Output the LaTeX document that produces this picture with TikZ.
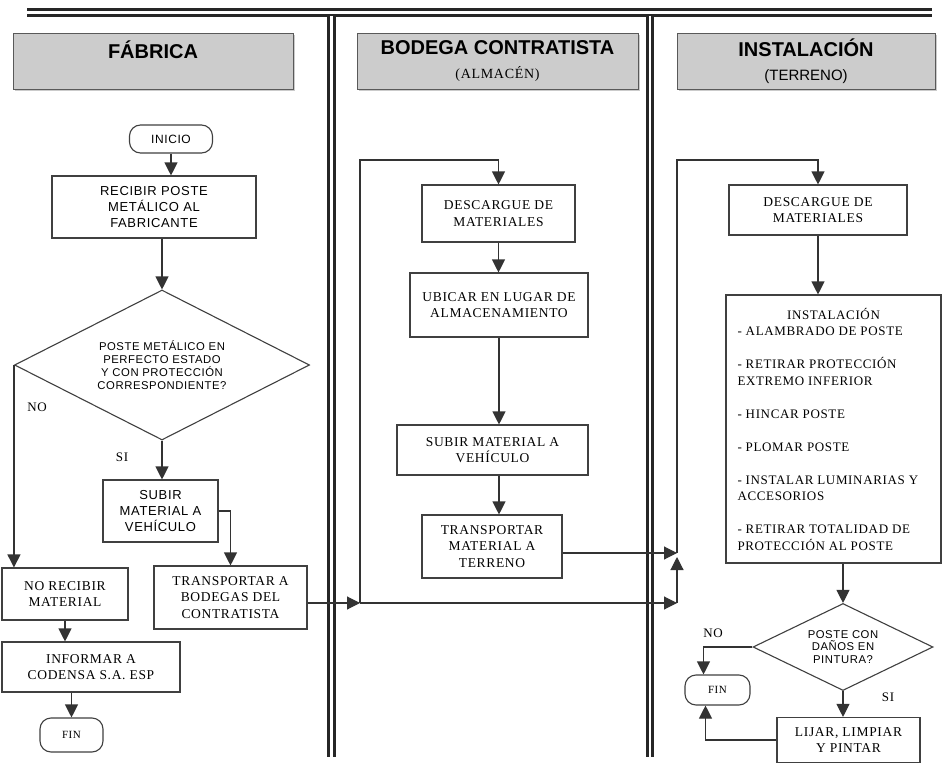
\documentclass[tikz,border=0pt]{standalone}
\usepackage{fontspec}
\setmainfont{Liberation Serif}
\setsansfont{Liberation Sans}
\newfontfamily\serifcaja[LetterSpace=5]{Liberation Serif}
\newfontfamily\sanscaja[LetterSpace=5]{Liberation Sans}
\usetikzlibrary{arrows.meta,shapes.geometric,shadows}

\begin{document}
\begin{tikzpicture}[x=1pt,y=-1pt,
    caja/.style={draw=black!75, line width=1.1pt, fill=white, align=center, inner sep=2pt,
        font=\serifcaja\fontsize{13.5}{16.5}\selectfont},
    cajasans/.style={caja, font=\sanscaja\fontsize{13}{16}\selectfont},
    encabezado/.style={draw=gray!70!black, line width=1pt, fill=gray!40, align=center,
        minimum height=56pt, font=\sffamily\bfseries\fontsize{20}{22}\selectfont,
        drop shadow={shadow xshift=1.5pt, shadow yshift=-1.5pt, fill=gray!80}},
    terminal/.style={caja, rounded corners=11pt, font=\serifcaja\fontsize{11}{12}\selectfont},
    decision/.style={draw=black!75, line width=1.1pt, fill=white, diamond, aspect=2,
        inner sep=0pt, align=center, font=\sanscaja\fontsize{11.3}{12.8}\selectfont},
    flecha/.style={draw=black!80, line width=1.1pt, -{Triangle[width=13pt,length=13pt]}},
    etiqueta/.style={font=\serifcaja\fontsize{13}{15}\selectfont},
    carril/.style={draw=black!85, line width=3pt, double=white, double distance=2.2pt}
]
\fill[white] (0,0) rectangle (946,768);
\useasboundingbox (0,0) rectangle (946,768);

\draw[carril] (27,12.5) -- (932,12.5);
\draw[carril] (331.5,16) -- (331.5,757);
\draw[carril] (650,16) -- (650,757);

\node[encabezado, minimum width=280pt] (encFabrica) at (153,61.5)
    {FÁBRICA\\[-2pt]{\mdseries\fontsize{13}{15}\selectfont\strut}};
\node[encabezado, minimum width=281pt] (encBodega) at (497.5,61.5)
    {BODEGA CONTRATISTA\\[2pt]{\mdseries\serifcaja\fontsize{14}{15}\selectfont (ALMACÉN)}};
\node[encabezado, minimum width=258pt] (encInstal) at (806,61.5)
    {INSTALACIÓN\\[2pt]{\mdseries\fontsize{15}{15}\selectfont (TERRENO)}};

% fabrica
\node[terminal, font=\sanscaja\fontsize{12}{13}\selectfont, minimum width=83pt, minimum height=28pt] (inicio) at (171,139) {INICIO};
\node[cajasans, minimum width=204pt, minimum height=62pt] (recibir) at (154,207) {RECIBIR POSTE\\METÁLICO AL\\FABRICANTE};
\node[decision, minimum width=295pt, minimum height=150pt] (pregunta) at (162,365) {POSTE METÁLICO EN\\PERFECTO ESTADO\\Y CON PROTECCIÓN\\CORRESPONDIENTE?};
\node[cajasans, minimum width=115pt, minimum height=62pt] (subirA) at (160.5,511) {SUBIR\\MATERIAL A\\VEHÍCULO};
\node[caja, minimum width=153pt, minimum height=63pt] (transpA) at (230.5,597.5) {TRANSPORTAR A\\BODEGAS DEL\\CONTRATISTA};
\node[caja, minimum width=126pt, minimum height=52pt] (noRecibir) at (65,594) {NO RECIBIR\\MATERIAL};
\node[caja, minimum width=178pt, minimum height=50pt] (informar) at (91,667) {INFORMAR A\\CODENSA S.A. ESP};
\node[terminal, minimum width=63pt, minimum height=34pt] (finA) at (71.5,735) {FIN};
\node[etiqueta] (etqNoA) at (37,407) {NO};
\node[etiqueta] (etqSiA) at (122,457) {SI};

% bodega
\node[caja, minimum width=153pt, minimum height=57pt] (descargaB) at (498.5,213.5) {DESCARGUE DE\\MATERIALES};
\node[caja, minimum width=178pt, minimum height=64pt] (ubicar) at (499,305) {UBICAR EN LUGAR DE\\ALMACENAMIENTO};
\node[caja, minimum width=191pt, minimum height=50pt] (subirB) at (492.5,450) {SUBIR MATERIAL A\\VEHÍCULO};
\node[caja, minimum width=140pt, minimum height=63pt] (transpB) at (492,546.5) {TRANSPORTAR\\MATERIAL A\\TERRENO};

% instalacion
\node[caja, minimum width=178pt, minimum height=50pt] (descargaC) at (818,210) {DESCARGUE DE\\MATERIALES};
\node[caja, minimum width=215pt, minimum height=268pt, text width=192pt, align=flush left,
    font=\serifcaja\fontsize{13}{16.5}\selectfont] (instalar) at (833.5,429)
    {\makebox[192pt][c]{INSTALACIÓN}\\
     - ALAMBRADO DE POSTE\\[16.5pt]
     - RETIRAR PROTECCIÓN\\ EXTREMO INFERIOR\\[16.5pt]
     - HINCAR POSTE\\[16.5pt]
     - PLOMAR POSTE\\[16.5pt]
     - INSTALAR LUMINARIAS Y\\ ACCESORIOS\\[16.5pt]
     - RETIRAR TOTALIDAD DE\\ PROTECCIÓN AL POSTE};
\node[decision, minimum width=180pt, minimum height=87pt] (preguntaC) at (843,647) {POSTE CON\\DAÑOS EN\\PINTURA?};
\node[terminal, minimum width=65pt, minimum height=30pt] (finC) at (717.5,690) {FIN};
\node[caja, minimum width=143pt, minimum height=45pt] (lijar) at (848.5,740) {LIJAR, LIMPIAR\\Y PINTAR};
\node[etiqueta] (etqNoC) at (713,633) {NO};
\node[etiqueta] (etqSiC) at (888,697) {SI};

\coordinate (cruceB) at (360,603);
\coordinate (retornoB) at (360,160);
\coordinate (cruceC) at (677,603);
\coordinate (llegadaC) at (677,553);
\coordinate (retornoC) at (677,160);

\draw[flecha] (inicio.south) -- (inicio.south |- recibir.north);
\draw[flecha] (pregunta.north |- recibir.south) -- (pregunta.north);
\draw[flecha] (pregunta.south) -- (pregunta.south |- subirA.north);
\draw[flecha] (subirA.east) -| (transpA.north);
\draw[flecha] (pregunta.west) -- (pregunta.west |- noRecibir.north);
\draw[flecha] (noRecibir.south) -- (informar.north -| noRecibir.south);
\draw[flecha] (informar.south -| finA.north) -- (finA.north);
\draw[flecha] (transpA.east |- cruceB) -- (cruceB);
\draw[flecha] (cruceB) -- (retornoB) -| (descargaB.north);
\draw[flecha] (cruceB) -- (cruceC);
\draw[flecha, shorten >=4pt] (cruceC) -- (llegadaC);

\draw[flecha] (descargaB.south) -- (descargaB.south |- ubicar.north);
\draw[flecha] (ubicar.south) -- (ubicar.south |- subirB.north);
\draw[flecha] (ubicar.south |- subirB.south) -- (ubicar.south |- transpB.north);
\draw[flecha] (transpB.east |- llegadaC) -- (llegadaC);
\draw[flecha] (llegadaC) -- (retornoC) -| (descargaC.north);

\draw[flecha] (descargaC.south) -- (descargaC.south |- instalar.north);
\draw[flecha] (preguntaC.north |- instalar.south) -- (preguntaC.north);
\draw[flecha] (preguntaC.west) -| ([xshift=-14pt]finC.north);
\draw[flecha] (preguntaC.south) -- (preguntaC.south |- lijar.north);
\draw[flecha] (lijar.west) -| ([xshift=-12pt]finC.south);
\end{tikzpicture}
\end{document}
